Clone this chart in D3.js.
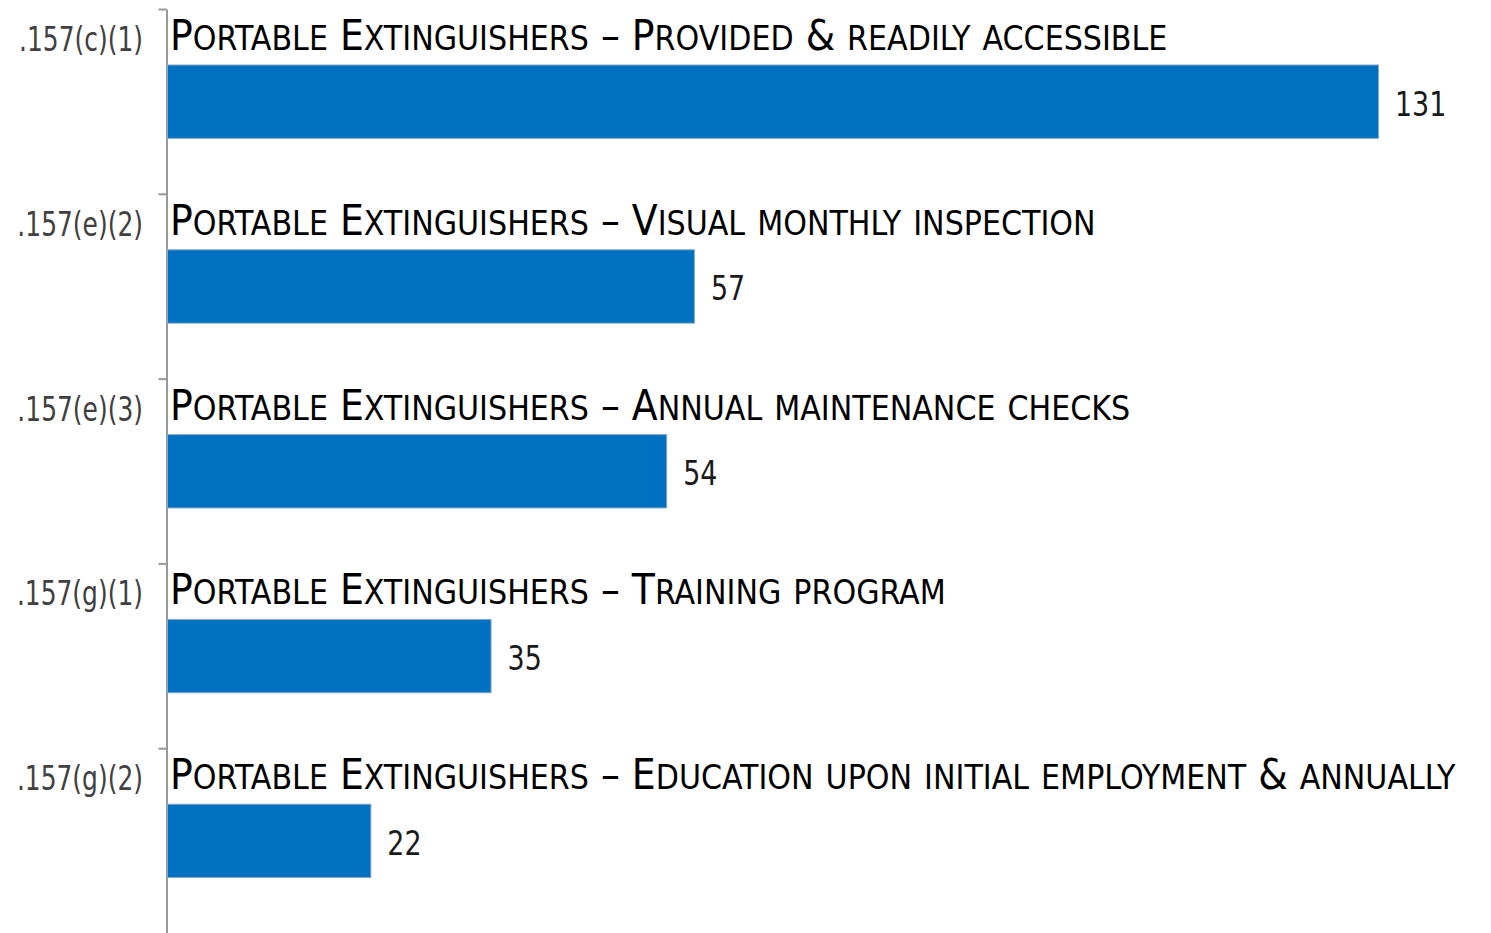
<!DOCTYPE html>
<html>
<head>
<meta charset="utf-8">
<script src="https://cdn.jsdelivr.net/npm/d3@7"></script>
<style>
  html, body { margin: 0; padding: 0; background: #fff; }
  svg { display: block; }
</style>
</head>
<body>
<svg id="chart" width="1491" height="933"></svg>
<script>
// ---- data ----
const codes = [".157(c)(1)", ".157(e)(2)", ".157(e)(3)", ".157(g)(1)", ".157(g)(2)"];
const titles = [
  "Portable Extinguishers – Provided & readily accessible",
  "Portable Extinguishers – Visual monthly inspection",
  "Portable Extinguishers – Annual maintenance checks",
  "Portable Extinguishers – Training program",
  "Portable Extinguishers – Education upon initial employment & annually"
];
const values = [131, 57, 54, 35, 22];

(function () {
// ---- layout ----
const axisX = 166.5;
const yTop = 9, yBottom = 933;
const fontFam = "'Liberation Sans Narrow', 'DejaVu Sans Condensed', 'Liberation Sans', sans-serif";

const svg = d3.select("#chart");

const y = d3.scaleBand().domain(codes).range([yTop, yBottom]).paddingInner(0).paddingOuter(0);
const x = d3.scaleLinear().domain([0, 131]).range([167, 1378]);
const yIdx = d3.scaleLinear().domain([0, codes.length]).range([yTop, yBottom]);

const barOff = 0.303, barH = 0.397;

// axis
const axis = d3.axisLeft(yIdx).tickValues(d3.range(codes.length)).tickSize(8).tickSizeOuter(0).tickFormat("");
const gAxis = svg.append("g").attr("transform", `translate(${axisX},0)`).call(axis);
gAxis.select(".domain").attr("stroke", "#999").attr("stroke-width", 2);
gAxis.selectAll(".tick line").attr("stroke", "#999").attr("stroke-width", 2);

// bars
svg.append("g").selectAll("rect").data(values).join("rect")
  .attr("x", x(0) + 0.5)
  .attr("y", (d, i) => y(codes[i]) + y.bandwidth() * barOff)
  .attr("width", d => x(d) - x(0))
  .attr("height", y.bandwidth() * barH)
  .attr("fill", "#0070c0")
  .attr("stroke", "#8aa9c4")
  .attr("stroke-width", 1);

// value labels
svg.append("g").selectAll("text").data(values).join("text")
  .attr("transform", (d, i) =>
    `translate(${x(d) + 17},${y(codes[i]) + y.bandwidth() * (barOff + barH / 2) + 2}) scale(0.88,1)`)
  .attr("dy", "0.35em")
  .attr("font-family", fontFam)
  .attr("font-size", 34)
  .attr("fill", "#1a1a1a")
  .text(d => d);

// category code labels
svg.append("g").selectAll("text").data(codes).join("text")
  .attr("transform", d => `translate(143,${y(d) + 42}) scale(0.84,1)`)
  .attr("text-anchor", "end")
  .attr("font-family", fontFam)
  .attr("font-size", 33)
  .attr("fill", "#404040")
  .text(d => d);

// titles in small caps
const big = 42, small = 33.5;
function runs(str) {
  const out = [];
  for (const ch of str) {
    const isSmall = ch !== ch.toUpperCase();
    const last = out[out.length - 1];
    if (last && last.small === isSmall) last.t += ch;
    else out.push({ small: isSmall, t: ch });
  }
  return out;
}
const gTitles = svg.append("g");
titles.forEach((t, i) => {
  const txt = gTitles.append("text")
    .attr("x", 170)
    .attr("y", y(codes[i]) + y.bandwidth() * barOff - 15)
    .attr("font-family", fontFam)
    .attr("fill", "#000");
  runs(t).forEach(r => {
    txt.append("tspan")
      .attr("font-size", r.small ? small : big)
      .text(r.small ? r.t.toUpperCase() : r.t);
  });
});
})();
</script>
</body>
</html>
